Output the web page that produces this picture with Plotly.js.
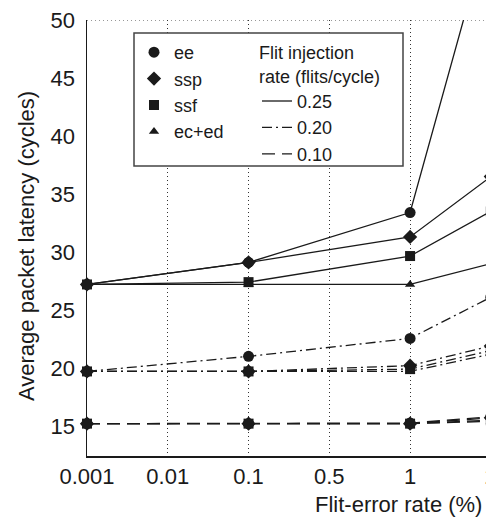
<!DOCTYPE html>
<html>
<head>
<meta charset="utf-8">
<script src="https://cdn.plot.ly/plotly-3.0.1.min.js"></script>
<style>
html, body { margin: 0; padding: 0; overflow: hidden; background: #fff; }
#chart { width: 530px; height: 517px; }
</style>
</head>
<body>
<div id="chart"></div>
<script>
// ---- data ----
const errorRateTicks = ['0.001', '0.01', '0.1', '0.5', '1', '2'];
const errorRatePoints = ['0.001', '0.1', '1', '2'];
const schemes = ['ee', 'ssp', 'ssf', 'ec+ed'];
const injectionRates = ['0.25', '0.20', '0.10'];
const legendHeading = 'Flit injection<br>rate (flits/cycle)';
const xTitle = 'Flit-error rate (%)';
const yTitle = 'Average packet latency (cycles)';
const yTicks = [15, 20, 25, 30, 35, 40, 45, 50];

// latency (cycles) at each error-rate point, per scheme, per injection rate
const ee_025   = [27.2, 29.1, 33.4, 58.5];
const ssp_025  = [27.2, 29.1, 31.3, 36.5];
const ssf_025  = [27.2, 27.4, 29.65, 33.5];
const eced_025 = [27.2, 27.2, 27.2, 29.0];

const ee_020   = [19.7, 21.0, 22.55, 26.1];
const ssp_020  = [19.7, 19.7, 20.2, 21.9];
const ssf_020  = [19.7, 19.7, 19.9, 21.5];
const eced_020 = [19.7, 19.7, 19.7, 21.2];

const ee_010   = [15.2, 15.2, 15.25, 15.8];
const ssp_010  = [15.2, 15.2, 15.2, 15.7];
const ssf_010  = [15.2, 15.2, 15.2, 15.5];
const eced_010 = [15.2, 15.2, 15.2, 15.4];

// ---- styles ----
const FONT = 'Liberation Sans, Arial, Helvetica, sans-serif';
const INK = '#1a1a1a';
const symbols = {'ee': 'circle', 'ssp': 'diamond', 'ssf': 'square', 'ec+ed': 'triangle-up'};
const symSizes = {'ee': 11, 'ssp': 11, 'ssf': 10, 'ec+ed': 9};
const dashes = {'0.25': 'solid', '0.20': '10px,4px,2px,4px', '0.10': '13px,7px'};

const series = {
  '0.25': {'ee': ee_025, 'ssp': ssp_025, 'ssf': ssf_025, 'ec+ed': eced_025},
  '0.20': {'ee': ee_020, 'ssp': ssp_020, 'ssf': ssf_020, 'ec+ed': eced_020},
  '0.10': {'ee': ee_010, 'ssp': ssp_010, 'ssf': ssf_010, 'ec+ed': eced_010}
};

const drawOrder = ['ec+ed', 'ee', 'ssp', 'ssf'];
const traces = [];
injectionRates.forEach(rate => {
  drawOrder.forEach(s => {
    traces.push({
      type: 'scatter', mode: 'lines+markers',
      x: errorRatePoints, y: series[rate][s],
      name: s + ' ' + rate, showlegend: false,
      cliponaxis: false,
      line: {color: INK, width: 1.3, dash: dashes[rate]},
      marker: {color: INK, symbol: symbols[s], size: symSizes[s]},
      hoverinfo: 'skip'
    });
  });
});
// legend entries (no data points)
schemes.forEach(s => {
  traces.push({
    type: 'scatter', mode: 'markers', x: [null], y: [null], name: s,
    legend: 'legend', showlegend: true,
    marker: {color: INK, symbol: symbols[s], size: symSizes[s]}
  });
});
injectionRates.forEach(rate => {
  traces.push({
    type: 'scatter', mode: 'lines', x: [null], y: [null], name: rate,
    legend: 'legend2', showlegend: true,
    line: {color: INK, width: 1.3, dash: dashes[rate]}
  });
});

const LEG_FONT = {family: FONT, size: 18, color: INK};
const layout = {
  width: 530, height: 517,
  margin: {l: 87, r: 23, t: 20, b: 61},
  paper_bgcolor: '#fff', plot_bgcolor: '#fff',
  font: {family: FONT, size: 22, color: INK},
  xaxis: {
    type: 'category', categoryorder: 'array', categoryarray: errorRateTicks,
    range: [0, 5.2], fixedrange: true,
    showgrid: true, gridcolor: '#333', gridwidth: 1, griddash: '1px,3px',
    showline: true, linecolor: INK, linewidth: 1.5,
    ticks: '', zeroline: false,
    tickfont: {family: FONT, size: 22, color: INK}
  },
  yaxis: {
    range: [12.41, 50], fixedrange: true,
    tickvals: yTicks, ticktext: yTicks.map(String),
    showgrid: false, zeroline: false,
    showline: true, linecolor: INK, linewidth: 1.5,
    ticks: '', ticklabelstandoff: 6,
    tickfont: {family: FONT, size: 22, color: INK}
  },
  showlegend: true,
  legend: {
    x: (134 - 87) / 420, y: (456 - 34) / 436, xanchor: 'left', yanchor: 'top',
    bgcolor: 'rgba(0,0,0,0)', borderwidth: 0,
    font: LEG_FONT, traceorder: 'normal', itemclick: false
  },
  legend2: {
    x: (257 - 87) / 420, y: (456 - 36) / 436, xanchor: 'left', yanchor: 'top',
    bgcolor: 'rgba(0,0,0,0)', borderwidth: 0,
    font: LEG_FONT, traceorder: 'normal', itemclick: false,
    title: {text: legendHeading, font: LEG_FONT, side: 'top'}
  },
  shapes: [
    {type: 'line', xref: 'paper', yref: 'y', x0: 0, x1: 1, y0: 50, y1: 50,
     line: {color: '#333', width: 1, dash: '1px,3px'}, layer: 'below'},
    {type: 'rect', xref: 'paper', yref: 'paper',
     x0: (134 - 87) / 420, x1: (403 - 87) / 420,
     y0: (456 - 166) / 436, y1: (456 - 33) / 436,
     line: {color: '#444', width: 1.5}, fillcolor: '#fff', layer: 'above'}
  ],
  annotations: [
    {text: xTitle, xref: 'paper', yref: 'paper', x: (484 - 87) / 420, y: -(504 - 456) / 436,
     xanchor: 'right', yanchor: 'middle', showarrow: false,
     font: {family: FONT, size: 22, color: INK}},
    {text: yTitle, xref: 'paper', yref: 'paper', x: (26 - 87) / 420, y: (456 - 246) / 436,
     xanchor: 'center', yanchor: 'middle', textangle: -90, showarrow: false,
     font: {family: FONT, size: 22, color: INK}}
  ]
};

Plotly.newPlot('chart', traces, layout, {displayModeBar: false, staticPlot: true});
</script>
</body>
</html>
